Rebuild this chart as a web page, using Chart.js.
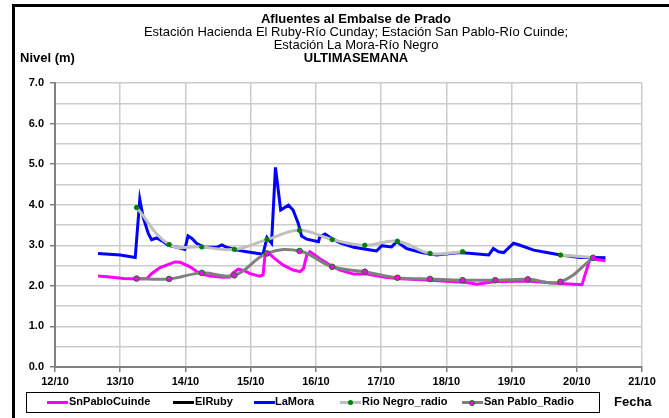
<!DOCTYPE html>
<html><head><meta charset="utf-8">
<script src="https://cdn.jsdelivr.net/npm/chart.js@4.4.1/dist/chart.umd.min.js"></script>
<style>
html,body{margin:0;padding:0;background:#fff;}
#wrap{position:relative;width:669px;height:418px;overflow:hidden;font-family:"Liberation Sans",Arial,sans-serif;color:#000;}
#frame{position:absolute;left:12px;top:4px;width:700px;height:500px;border-left:3px solid #000;border-top:3px solid #000;}
canvas{position:absolute;left:0;top:0;}
.t{position:absolute;left:0;width:712px;text-align:center;font-size:13px;white-space:nowrap;line-height:14px;}
.b{font-weight:bold;}
.lab{position:absolute;font-size:13px;font-weight:bold;white-space:nowrap;line-height:14px;}
#legend{position:absolute;left:26px;top:392px;width:572px;height:19px;border:1px solid #000;}
.li{position:absolute;top:401px;height:3px;width:21px;}
.ld{position:absolute;width:5px;height:5px;border-radius:50%;top:400px;}
.lt{position:absolute;top:395px;font-size:11px;font-weight:bold;line-height:13px;white-space:nowrap;}
</style></head>
<body>
<div id="wrap">
<div id="frame"></div>
<canvas id="c" width="669" height="418"></canvas>
<div class="t b" style="top:12px">Afluentes al Embalse de Prado</div>
<div class="t" style="top:25px">Estación Hacienda El Ruby-Río Cunday; Estación San Pablo-Río Cuinde;</div>
<div class="t" style="top:38px">Estación La Mora-Río Negro</div>
<div class="t b" style="top:51px">ULTIMASEMANA</div>
<div class="lab" style="left:20px;top:51px">Nivel (m)</div>
<div class="lab" style="left:614px;top:395px">Fecha</div>
<div id="legend"></div>
<div class="li" style="left:47px;background:#ff00ff"></div><div class="lt" style="left:69px">SnPabloCuinde</div>
<div class="li" style="left:173px;background:#000"></div><div class="lt" style="left:195px">ElRuby</div>
<div class="li" style="left:254px;background:#0000ff"></div><div class="lt" style="left:275px">LaMora</div>
<div class="li" style="left:340px;background:#c0c0c0"></div><div class="ld" style="left:348px;background:#008000"></div><div class="lt" style="left:362px">Rio Negro_radio</div>
<div class="li" style="left:462px;background:#808080"></div><div class="ld" style="left:469px;background:#ff00ff;border:1px solid #008000;width:4px;height:4px;"></div><div class="lt" style="left:484px">San Pablo_Radio</div>
</div>
<script>
// X tick labels (days of October)
const xTickLabels = ['12/10','13/10','14/10','15/10','16/10','17/10','18/10','19/10','20/10','21/10'];
const yTickValues = [0,1,2,3,4,5,6,7];

// LaMora (blue)
const laMoraDays = [12.66,13.00,13.23,13.30,13.35,13.43,13.48,13.56,13.64,13.74,13.87,13.99,14.04,14.10,14.17,14.27,14.48,14.56,14.63,14.79,14.94,15.19,15.25,15.32,15.38,15.46,15.58,15.65,15.73,15.78,15.86,16.04,16.06,16.14,16.24,16.37,16.58,16.86,16.93,17.01,17.16,17.24,17.39,17.62,17.85,18.21,18.65,18.72,18.80,18.88,19.03,19.13,19.34,19.54,19.75,20.05,20.26,20.44];
const laMoraLevels = [2.80,2.76,2.70,4.13,3.70,3.29,3.14,3.18,3.11,3.00,2.95,2.90,3.23,3.17,3.05,2.96,2.95,3.01,2.95,2.88,2.84,2.78,3.19,3.05,4.92,3.87,3.99,3.87,3.54,3.23,3.15,3.09,3.21,3.28,3.17,3.06,2.95,2.88,2.86,2.99,2.96,3.09,2.92,2.82,2.76,2.82,2.76,2.92,2.84,2.82,3.05,3.00,2.88,2.82,2.76,2.70,2.70,2.69];

// SnPabloCuinde (magenta)
const snPabloDays = [12.66,12.84,13.05,13.25,13.41,13.48,13.61,13.74,13.84,13.92,14.07,14.22,14.38,14.58,14.68,14.73,14.81,14.91,14.99,15.14,15.19,15.22,15.27,15.37,15.50,15.65,15.76,15.81,15.86,15.91,16.06,16.22,16.37,16.58,16.78,17.04,17.24,17.75,18.31,18.47,18.72,19.23,19.75,20.08,20.18,20.21,20.44];
const snPabloLevels = [2.24,2.22,2.18,2.17,2.18,2.30,2.45,2.53,2.59,2.58,2.47,2.30,2.24,2.21,2.22,2.32,2.41,2.37,2.30,2.24,2.27,2.76,2.82,2.67,2.51,2.39,2.35,2.43,2.76,2.84,2.67,2.51,2.39,2.29,2.29,2.22,2.18,2.14,2.08,2.04,2.10,2.12,2.06,2.03,2.55,2.67,2.62];

// ElRuby (no data in the week)
const elRubyDays = [];
const elRubyLevels = [];

// Rio Negro_radio (light grey, green markers) — null = missing
const rioNegroDays = [13.25,13.75,14.25,14.75,15.25,15.75,16.25,16.75,17.25,17.75,18.25,19.0,19.75,20.25];
const rioNegroLevels = [3.93,3.02,2.96,2.90,3.14,3.37,3.14,3.00,3.10,2.80,2.84,null,2.76,2.70];

// San Pablo_Radio (dark grey, magenta markers)
const sanPabloDays = [13.25,13.75,14.25,14.75,15.25,15.75,16.25,16.75,17.25,17.75,18.25,18.75,19.25,19.75,20.25];
const sanPabloLevels = [2.18,2.17,2.32,2.26,2.80,2.86,2.47,2.35,2.20,2.17,2.14,2.14,2.16,2.10,2.69];

const pts = (xs, ys) => xs.map((x, i) => ({x: x, y: ys[i]}));

new Chart(document.getElementById('c'), {
  type: 'line',
  data: {
    datasets: [
      {label:'SnPabloCuinde', data: pts(snPabloDays, snPabloLevels), borderColor:'#ff00ff', borderWidth:3, pointRadius:0, tension:0, order:4},
      {label:'ElRuby', data: pts(elRubyDays, elRubyLevels), borderColor:'#000000', borderWidth:3, pointRadius:0, order:3},
      {label:'LaMora', data: pts(laMoraDays, laMoraLevels), borderColor:'#0000ff', borderWidth:3, pointRadius:0, tension:0, order:5},
      {label:'Rio Negro_radio', data: pts(rioNegroDays, rioNegroLevels), borderColor:'#c0c0c0', borderWidth:3, tension:0.4, spanGaps:false,
        pointRadius:2.2, pointBackgroundColor:'#008000', pointBorderColor:'#008000', pointBorderWidth:1, order:2},
      {label:'San Pablo_Radio', data: pts(sanPabloDays, sanPabloLevels), borderColor:'#808080', borderWidth:3, tension:0.4,
        pointRadius:2.8, pointBackgroundColor:'#ff00ff', pointBorderColor:'#008000', pointBorderWidth:1, order:1}
    ]
  },
  options: {
    responsive:false, animation:false, devicePixelRatio:1,
    layout:{padding:{left:12, top:83, right:27, bottom:31}},
    plugins:{legend:{display:false}, tooltip:{enabled:false}, title:{display:false}},
    scales:{
      x:{type:'linear', min:12, max:21,
        afterFit: s => { s.height = 20; },
        ticks:{stepSize:1, autoSkip:false, maxRotation:0, padding:3, color:'#000',
          font:{family:'"Liberation Sans", Arial, sans-serif', size:11, weight:'bold'},
          callback: v => xTickLabels[Math.round(v) - 12] || ''},
        grid:{color:'#cccccc', lineWidth:1.5, tickLength:5, tickColor:'#808080'},
        border:{color:'#808080', width:2}
      },
      y:{min:0, max:7,
        afterFit: s => { s.width = 43; },
        ticks:{stepSize:0.5, padding:6, color:'#000',
          font:{family:'"Liberation Sans", Arial, sans-serif', size:11, weight:'bold'},
          callback: v => yTickValues.includes(v) ? v.toFixed(1) : ''},
        grid:{color:'#cccccc', lineWidth:1.5, tickLength:5,
          tickColor: ctx => (ctx.tick && Number.isInteger(ctx.tick.value)) ? '#808080' : 'rgba(0,0,0,0)'},
        border:{color:'#808080', width:2}
      }
    }
  }
});
</script>
</body></html>
